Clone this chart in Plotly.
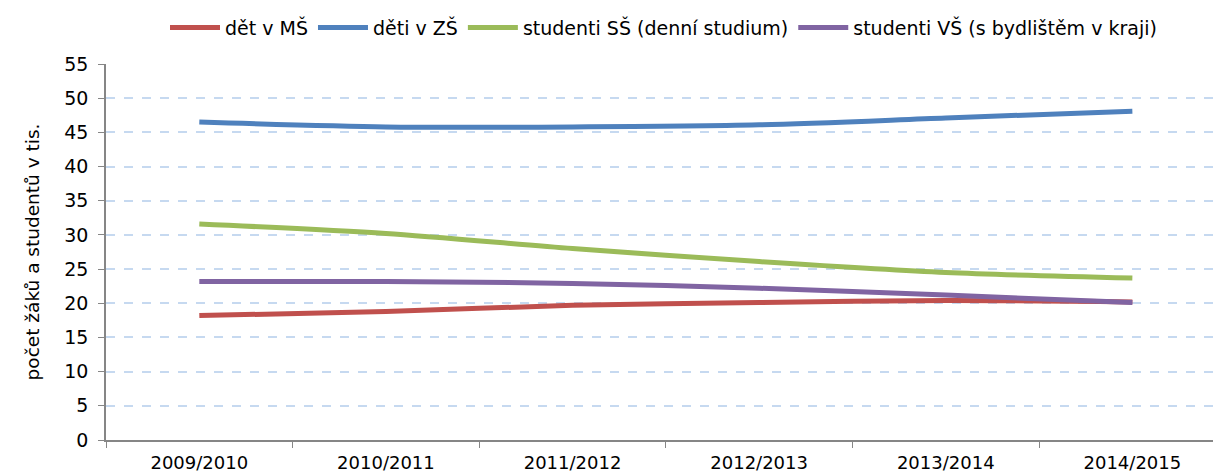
import plotly.graph_objects as go

years = ["2009/2010", "2010/2011", "2011/2012", "2012/2013", "2013/2014", "2014/2015"]
deti_ms = [18.2, 18.8, 19.7, 20.1, 20.4, 20.2]
deti_zs = [46.5, 45.8, 45.8, 46.1, 47.1, 48.1]
studenti_ss = [31.6, 30.2, 28.0, 26.1, 24.5, 23.7]
studenti_vs = [23.2, 23.2, 22.9, 22.2, 21.2, 20.1]

names = ["dět v MŠ", "děti v ZŠ", "studenti SŠ (denní studium)", "studenti VŠ (s bydlištěm v kraji)"]
colors = ["#c0504d", "#4f81bd", "#9bbb59", "#8064a2"]
series = [deti_ms, deti_zs, studenti_ss, studenti_vs]

fig = go.Figure()
for name, col, vals in zip(names, colors, series):
    fig.add_trace(go.Scatter(
        x=years, y=vals, name=name, mode="lines",
        line=dict(color=col, width=5, shape="spline", smoothing=0.8),
    ))

font = "DejaVu Sans, Liberation Sans, Arial, sans-serif"
fig.update_layout(
    width=1213, height=467,
    margin=dict(l=98, r=0, t=56, b=35),
    paper_bgcolor="white", plot_bgcolor="white",
    font=dict(family=font, size=18, color="black"),
    showlegend=True,
    legend=dict(orientation="h", x=0.5, xanchor="center", y=0.958, yanchor="middle",
                yref="container", font=dict(size=19), itemwidth=50,
                traceorder="normal"),
    xaxis=dict(
        type="category", range=[-0.5, 5.475],
        showgrid=False, showline=True, linecolor="#868686", linewidth=1.5,
        ticks="outside", tickson="boundaries", ticklen=6, tickcolor="#868686",
        tickfont=dict(size=18), zeroline=False, ticklabelstandoff=6,
    ),
    yaxis=dict(
        range=[0, 55], dtick=5, tick0=0,
        showgrid=True, gridcolor="#c6d9f0", griddash="dash", gridwidth=1.5,
        showline=True, linecolor="#868686", linewidth=1.5,
        ticks="outside", ticklen=6, tickcolor="#868686",
        tickfont=dict(size=19), zeroline=False, ticklabelstandoff=6,
        title=dict(text="počet žáků a studentů v tis.", font=dict(size=18.5), standoff=20),
    ),
)

fig.write_html("out.html")
